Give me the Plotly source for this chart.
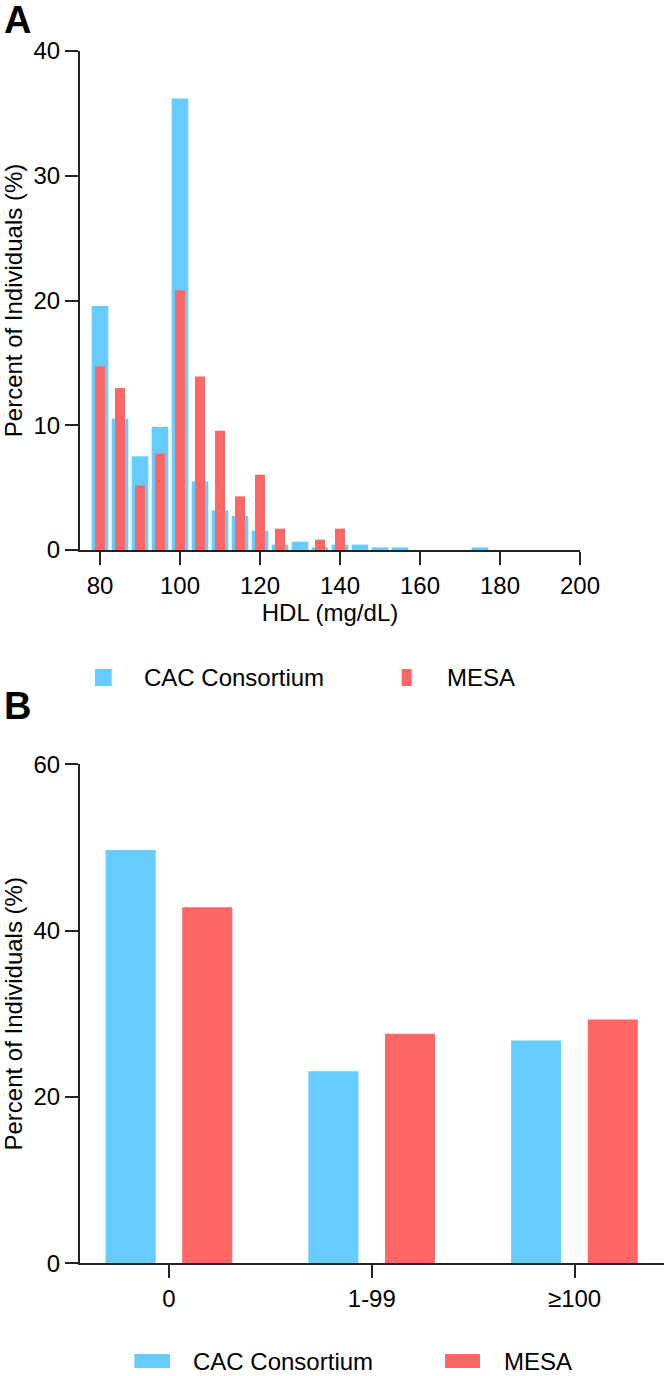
import plotly.graph_objects as go

W, H = 664, 1376

# ---------------- Data ----------------
# Panel A: HDL distribution (bin centres, mg/dL)
hdl_bins_cac = [80, 85, 90, 95, 100, 105, 110, 115, 120, 125, 130, 135, 140, 145, 150, 155, 160, 165, 170, 175]
pct_cac = [19.55, 10.52, 7.52, 9.85, 36.2, 5.5, 3.18, 2.73, 1.55, 0.43, 0.67, 0.21, 0.43, 0.43, 0.21, 0.21, 0, 0, 0, 0.21]

hdl_bins_mesa = [80, 85, 90, 95, 100, 105, 110, 115, 120, 125, 130, 135, 140]
pct_mesa = [14.73, 12.99, 5.17, 7.76, 20.83, 13.9, 9.55, 4.3, 6.03, 1.71, 0, 0.83, 1.71]

# Panel B: CAC categories
cac_categories = ["0", "1-99", "≥100"]
cat_cac = [49.7, 23.1, 26.8]
cat_mesa = [42.8, 27.6, 29.3]

series_names = ["CAC Consortium", "MESA"]
BLUE = "#66CCFF"
RED = "#FF6666"
AXC = "#222222"
FONT = "Liberation Sans, Arial, Helvetica, sans-serif"


def px_x(x):
    return x / W


def px_y(y):
    return 1 - y / H


fig = go.Figure()

fig.add_trace(go.Bar(x=hdl_bins_cac, y=pct_cac, width=4.15, marker_color=BLUE,
                     marker_line_width=0, name=series_names[0], showlegend=False,
                     xaxis="x", yaxis="y"))
fig.add_trace(go.Bar(x=hdl_bins_mesa, y=pct_mesa, width=2.5, marker_color=RED,
                     marker_line_width=0, name=series_names[1], showlegend=False,
                     xaxis="x", yaxis="y"))

fig.add_trace(go.Bar(x=cac_categories, y=cat_cac, width=0.247, offset=-0.313,
                     marker_color=BLUE, marker_line_width=0, name=series_names[0],
                     showlegend=False, xaxis="x2", yaxis="y2"))
fig.add_trace(go.Bar(x=cac_categories, y=cat_mesa, width=0.247, offset=0.065,
                     marker_color=RED, marker_line_width=0, name=series_names[1],
                     showlegend=False, xaxis="x2", yaxis="y2"))

axis_common = dict(showline=True, linecolor=AXC, linewidth=2, ticks="outside",
                   ticklen=13, tickwidth=2, tickcolor=AXC, showgrid=False,
                   zeroline=False, automargin=False,
                   tickfont=dict(family=FONT, size=24, color="black"),
                   title_font=dict(family=FONT, size=24, color="black"))

fig.update_layout(
    template="none",
    width=W, height=H,
    margin=dict(l=0, r=0, t=0, b=0, pad=0),
    paper_bgcolor="white", plot_bgcolor="white",
    barmode="overlay",
    showlegend=False,
    font=dict(family=FONT, size=24, color="black"),
    xaxis=dict(axis_common, domain=[px_x(80), px_x(580)], range=[75, 200],
               tickvals=[80, 100, 120, 140, 160, 180, 200], anchor="y",
               title=dict(text="HDL (mg/dL)", standoff=6)),
    yaxis=dict(axis_common, domain=[px_y(550), px_y(51)], range=[0, 40],
               tickvals=[0, 10, 20, 30, 40], anchor="x",
               title=dict(text="Percent of Individuals (%)", standoff=10)),
    xaxis2=dict(axis_common, domain=[px_x(80), 1.0], range=[-0.439, 2.441],
                type="category", anchor="y2"),
    yaxis2=dict(axis_common, domain=[px_y(1263.3), px_y(764.3)], range=[0, 60],
                tickvals=[0, 20, 40, 60], anchor="x2",
                title=dict(text="Percent of Individuals (%)", standoff=10)),
)

shapes = []
annotations = []

# Panel letters
annotations.append(dict(text="<b>A</b>", x=px_x(2), y=px_y(20), xref="paper", yref="paper",
                        xanchor="left", yanchor="middle", showarrow=False,
                        font=dict(family=FONT, size=38, color="black")))
annotations.append(dict(text="<b>B</b>", x=px_x(2), y=px_y(706), xref="paper", yref="paper",
                        xanchor="left", yanchor="middle", showarrow=False,
                        font=dict(family=FONT, size=38, color="black")))

# Legend A
legA = [(95, 111.7, 141.7, BLUE, series_names[0]), (401.7, 411.7, 445, RED, series_names[1])]
for x0, x1, tx, col, name in legA:
    shapes.append(dict(type="rect", xref="paper", yref="paper", x0=px_x(x0), x1=px_x(x1),
                       y0=px_y(686), y1=px_y(669), fillcolor=col, line_width=0))
    annotations.append(dict(text=name, x=px_x(tx), y=px_y(677.5), xref="paper", yref="paper",
                            xanchor="left", yanchor="middle", showarrow=False,
                            font=dict(family=FONT, size=24, color="black")))

# Legend B
legB = [(134.3, 170, 191, BLUE, series_names[0]), (445, 480, 501.7, RED, series_names[1])]
for x0, x1, tx, col, name in legB:
    shapes.append(dict(type="rect", xref="paper", yref="paper", x0=px_x(x0), x1=px_x(x1),
                       y0=px_y(1368), y1=px_y(1354), fillcolor=col, line_width=0))
    annotations.append(dict(text=name, x=px_x(tx), y=px_y(1361), xref="paper", yref="paper",
                            xanchor="left", yanchor="middle", showarrow=False,
                            font=dict(family=FONT, size=24, color="black")))

fig.update_layout(shapes=shapes, annotations=annotations)

fig.write_html(
    "out.html",
    config={"displayModeBar": False},
    post_script="document.body.style.margin='0px';document.body.style.padding='0px';"
                "document.body.style.overflow='hidden';",
)
